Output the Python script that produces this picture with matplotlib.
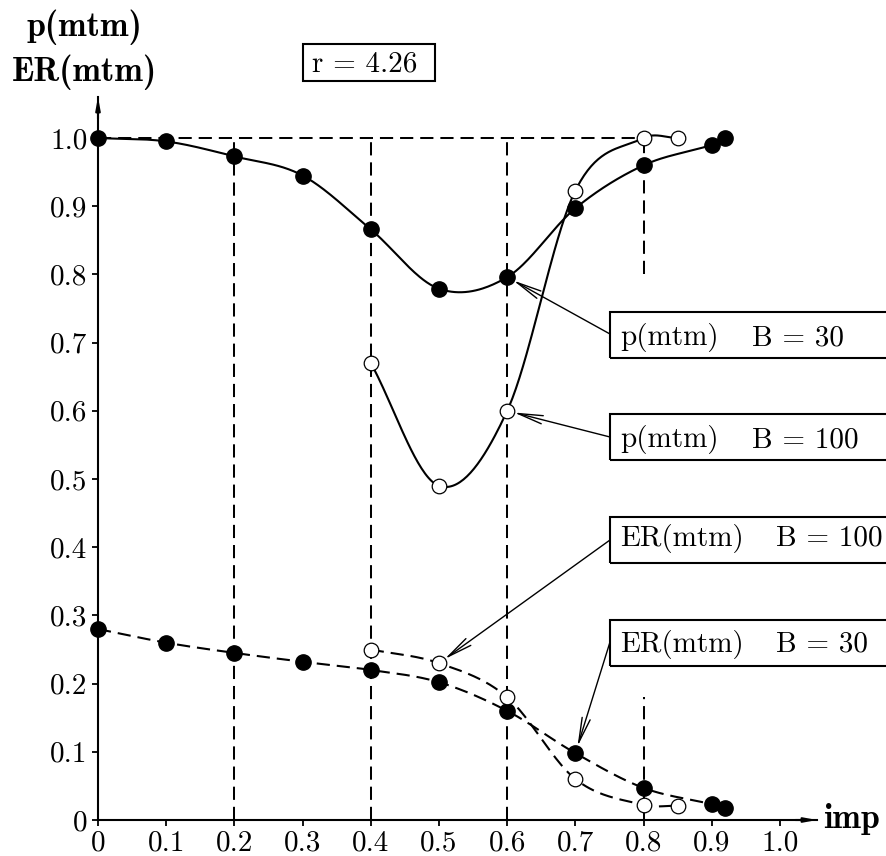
import numpy as np
import matplotlib
matplotlib.use("Agg")
import matplotlib.pyplot as plt
from matplotlib.patches import Rectangle

plt.rcParams['font.family'] = ['cmr10', 'DejaVu Serif']
plt.rcParams['axes.formatter.use_mathtext'] = True
plt.rcParams['lines.scale_dashes'] = False

# ---- data ----
x_p30 = [0.0, 0.1, 0.2, 0.3, 0.4, 0.5, 0.6, 0.7, 0.8, 0.9, 0.92]
y_p30 = [1.0, 0.995, 0.973, 0.945, 0.866, 0.779, 0.796, 0.897, 0.960, 0.990, 1.0]
x_p100 = [0.4, 0.5, 0.6, 0.7, 0.8, 0.85]
y_p100 = [0.67, 0.49, 0.60, 0.923, 1.0, 1.0]
x_er30 = [0.0, 0.1, 0.2, 0.3, 0.4, 0.5, 0.6, 0.7, 0.8, 0.9, 0.92]
y_er30 = [0.28, 0.26, 0.245, 0.232, 0.22, 0.202, 0.16, 0.098, 0.047, 0.023, 0.017]
x_er100 = [0.4, 0.5, 0.6, 0.7, 0.8, 0.85]
y_er100 = [0.25, 0.23, 0.18, 0.06, 0.022, 0.021]
ticks = [0.0, 0.1, 0.2, 0.3, 0.4, 0.5, 0.6, 0.7, 0.8, 0.9, 1.0]
tick_labels = ['0', '0.1', '0.2', '0.3', '0.4', '0.5', '0.6', '0.7', '0.8', '0.9', '1.0']

W, H = 886, 856
FS = 21
FSB = 24.5


def smooth(xs, ys, n=40):
    xs = np.asarray(xs, float)
    ys = np.asarray(ys, float)
    m = np.zeros_like(ys)
    m[0] = (ys[1] - ys[0]) / (xs[1] - xs[0])
    m[-1] = (ys[-1] - ys[-2]) / (xs[-1] - xs[-2])
    for i in range(1, len(xs) - 1):
        m[i] = (ys[i + 1] - ys[i - 1]) / (xs[i + 1] - xs[i - 1])
    ox, oy = [], []
    for i in range(len(xs) - 1):
        h = xs[i + 1] - xs[i]
        t = np.linspace(0, 1, n)
        h00 = 2 * t**3 - 3 * t**2 + 1
        h10 = t**3 - 2 * t**2 + t
        h01 = -2 * t**3 + 3 * t**2
        h11 = t**3 - t**2
        ox.append(xs[i] + t * h)
        oy.append(h00 * ys[i] + h10 * h * m[i] + h01 * ys[i + 1] + h11 * h * m[i + 1])
    return np.concatenate(ox), np.concatenate(oy)


def fx(px):
    return px / W


def fy(py):
    return 1 - py / H


fig = plt.figure(figsize=(W / 100, H / 100), dpi=100)
ax = fig.add_axes([fx(98), fy(820), (817 - 98) / W, (820 - 97) / H])
ax.set_xlim(0, (817 - 98) / 682.0)
ax.set_ylim(0, (820 - 97) / 682.0)

for s in ['top', 'right']:
    ax.spines[s].set_visible(False)
for s in ['left', 'bottom']:
    ax.spines[s].set_linewidth(1.5)

ax.set_xticks(ticks)
ax.set_xticklabels(tick_labels)
ax.set_yticks(ticks)
ax.set_yticklabels(tick_labels)
ax.tick_params(direction='out', length=4.5, width=1.3, labelsize=FS, pad=3)

# axis arrows
ax.annotate('', xy=(1.0, 0), xycoords='axes fraction', xytext=(0.97, 0),
            arrowprops=dict(arrowstyle='-|>,head_length=0.7,head_width=0.13',
                            lw=1.5, color='black', shrinkA=0, shrinkB=0))
ax.annotate('', xy=(0, 1.0), xycoords='axes fraction', xytext=(0, 0.97),
            arrowprops=dict(arrowstyle='-|>,head_length=0.7,head_width=0.13',
                            lw=1.5, color='black', shrinkA=0, shrinkB=0))

dash = (0, (9.5, 5))
lw_ref = 1.45
ax.plot([0, 0.8], [1.0, 1.0], color='black', lw=lw_ref, linestyle=dash)
for xv in [0.2, 0.4, 0.6]:
    ax.plot([xv, xv], [0, 1.0], color='black', lw=lw_ref, linestyle=dash)
ax.plot([0.8, 0.8], [0.8, 1.0], color='black', lw=lw_ref, linestyle=dash)
ax.plot([0.8, 0.8], [0.0, 0.18], color='black', lw=lw_ref, linestyle=dash)

lw_c = 1.5
sx, sy = smooth(x_p30, y_p30)
ax.plot(sx, sy, color='black', lw=lw_c)
sx, sy = smooth(x_p100, y_p100)
ax.plot(sx, sy, color='black', lw=lw_c)
sx, sy = smooth(x_er30, y_er30)
ax.plot(sx, sy, color='black', lw=lw_c, linestyle=dash)
sx, sy = smooth(x_er100, y_er100)
ax.plot(sx, sy, color='black', lw=lw_c, linestyle=dash)

ms_f, ms_o = 11, 10.5
ax.plot(x_p30, y_p30, 'o', ms=ms_f, color='black', clip_on=False, zorder=5)
ax.plot(x_er30, y_er30, 'o', ms=ms_f, color='black', clip_on=False, zorder=5)
ax.plot(x_p100, y_p100, 'o', ms=ms_o, mfc='white', mec='black', mew=0.9, clip_on=False, zorder=5)
ax.plot(x_er100, y_er100, 'o', ms=ms_o, mfc='white', mec='black', mew=0.9, clip_on=False, zorder=5)

# axis titles
fig.text(fx(84), fy(36), 'p(mtm)', family='cmb10', fontsize=FSB, ha='center', va='baseline')
fig.text(fx(84), fy(81), 'ER(mtm)', family='cmb10', fontsize=FSB, ha='center', va='baseline')
fig.text(fx(823), fy(828), 'imp', family='cmb10', fontsize=FSB, ha='left', va='baseline')

# r box
fig.add_artist(Rectangle((fx(303), fy(81)), (435 - 303) / W, (81 - 44) / H,
                         transform=fig.transFigure, fill=False, lw=1.5, color='black'))
fig.text(fx(312), fy(72), 'r = 4.26', fontsize=FS, ha='left', va='baseline')

# label boxes
boxes = [
    # top, bottom, name, B text, baseline, target x, target y, arrow start y
    (312, 358, 'p(mtm)', 'B = 30', 345, x_p30[6], y_p30[6], 334),
    (414, 460, 'p(mtm)', 'B = 100', 447, x_p100[2], y_p100[2], 437),
    (517, 563, 'ER(mtm)', 'B = 100', 546, x_er100[1], y_er100[1], 540),
    (620, 666, 'ER(mtm)', 'B = 30', 652, x_er30[7], y_er30[7], 642),
]
for top, bot, name, btxt, base, tx, ty, ay in boxes:
    fig.add_artist(Rectangle((fx(610), fy(bot)), (920 - 610) / W, (bot - top) / H,
                             transform=fig.transFigure, fill=False, lw=1.5,
                             color='black', clip_on=False))
    bx = 752 if name == 'p(mtm)' else 776
    fig.text(fx(620), fy(base), name, fontsize=FS, ha='left', va='baseline')
    fig.text(fx(bx), fy(base), btxt, fontsize=FS, ha='left', va='baseline')
    ax.annotate('', xy=(tx, ty), xycoords='data',
                xytext=(fx(610), fy(ay)), textcoords='figure fraction',
                arrowprops=dict(arrowstyle='->,head_length=1.8,head_width=0.3',
                                lw=1.0, color='black', shrinkA=0, shrinkB=5),
                zorder=6)

fig.savefig('out.png', dpi=100)
